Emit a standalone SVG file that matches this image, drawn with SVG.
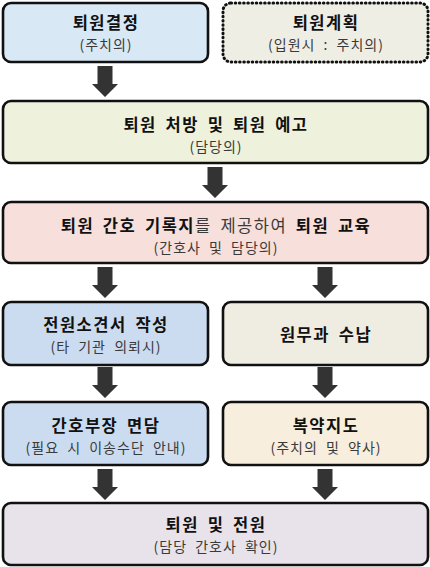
<svg xmlns="http://www.w3.org/2000/svg" width="430" height="567" viewBox="0 0 430 567">
<defs>
<style>
.box{stroke:#111;stroke-width:2.6}
.dot{stroke:#111;stroke-width:3;stroke-dasharray:0.6 3.6;stroke-linecap:round}
text{font-family:"Noto Sans CJK KR","Noto Sans",sans-serif;text-anchor:middle}
.t{font-size:16.5px;font-weight:bold;fill:#111;letter-spacing:1.5px;word-spacing:3.5px}
.s{font-size:14px;fill:#3a3a3a;letter-spacing:1px;word-spacing:4px}
.n{font-weight:normal;fill:#3a3a3a}
.arr{fill:#333}
</style>
<path id="ar" d="M-7.5,0 H7.5 V18 H13 L0,31 L-13,18 H-7.5 Z"/>
</defs>
<rect width="430" height="567" fill="#fff"/>
<g id="connectors" class="arr">
<use href="#ar" x="105" y="66"/>
<use href="#ar" x="215" y="167"/>
<use href="#ar" x="105" y="267"/>
<use href="#ar" x="325" y="267"/>
<use href="#ar" x="105" y="367"/>
<use href="#ar" x="325" y="367"/>
<use href="#ar" x="105" y="469"/>
<use href="#ar" x="325" y="469"/>
</g>
<g id="n1">
<rect class="box" x="3" y="3" width="205" height="59" rx="8" fill="#d9e8f5"/>
<text class="t" x="106" y="28.5">퇴원결정</text>
<text class="s" x="106" y="49.5">(주치의)</text>
</g>
<g id="n2">
<rect class="dot" x="223" y="3" width="205" height="59" rx="8" fill="#efeee4"/>
<text class="t" x="326" y="28.5">퇴원계획</text>
<text class="s" x="326" y="49.5">(입원시 : 주치의)</text>
</g>
<g id="n3">
<rect class="box" x="3" y="101" width="425" height="62" rx="8" fill="#eef2dd"/>
<text class="t" x="216" y="130.5">퇴원 처방 및 퇴원 예고</text>
<text class="s" x="216" y="152">(담당의)</text>
</g>
<g id="n4">
<rect class="box" x="3" y="202" width="425" height="61" rx="8" fill="#f7dfdb"/>
<text class="t" x="216" y="231.5">퇴원 간호 기록지<tspan class="n">를 제공하여 </tspan>퇴원 교육</text>
<text class="s" x="216" y="252.5">(간호사 및 담당의)</text>
</g>
<g id="n5">
<rect class="box" x="3" y="302" width="205" height="63" rx="8" fill="#cbdcf0"/>
<text class="t" x="106" y="330.5">전원소견서 작성</text>
<text class="s" x="106" y="351.5">(타 기관 의뢰시)</text>
</g>
<g id="n6">
<rect class="box" x="223" y="302" width="205" height="63" rx="8" fill="#efece1"/>
<text class="t" x="326" y="340.5">원무과 수납</text>
</g>
<g id="n7">
<rect class="box" x="3" y="402" width="205" height="63" rx="8" fill="#cbdcf0"/>
<text class="t" x="106" y="431.5">간호부장 면담</text>
<text class="s" x="106" y="452.5">(필요 시 이송수단 안내)</text>
</g>
<g id="n8">
<rect class="box" x="223" y="402" width="205" height="63" rx="8" fill="#f8eedd"/>
<text class="t" x="326" y="431.5">복약지도</text>
<text class="s" x="326" y="452.5">(주치의 및 약사)</text>
</g>
<g id="n9">
<rect class="box" x="3" y="503" width="425" height="62" rx="8" fill="#e8e3ea"/>
<text class="t" x="216" y="530.5">퇴원 및 전원</text>
<text class="s" x="216" y="552">(담당 간호사 확인)</text>
</g>
</svg>
